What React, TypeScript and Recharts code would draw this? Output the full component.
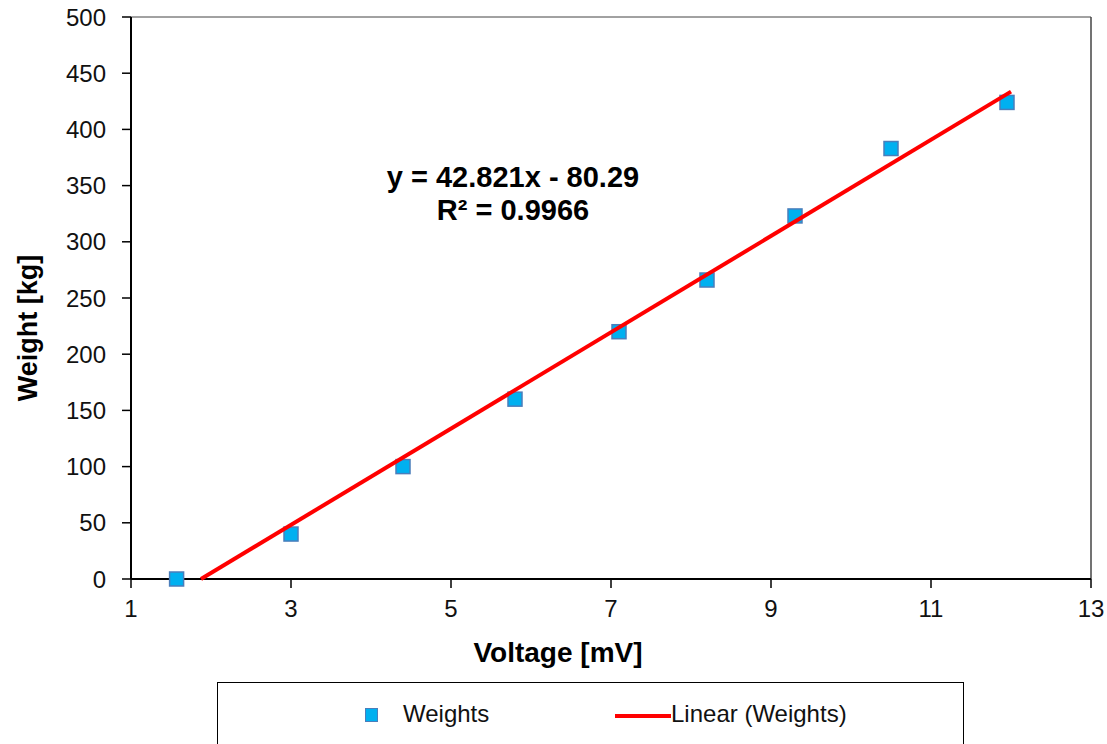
import {
  ScatterChart,
  Scatter,
  XAxis,
  YAxis,
  ReferenceLine,
} from "recharts";

const voltage = [1.57, 3.0, 4.4, 5.8, 7.1, 8.2, 9.3, 10.5, 11.95];
const weights = [0, 40, 100, 160, 220, 266, 323, 383, 424];

const trendVoltage = [1.875, 12];
const trendWeight = [0, 433.6];

const xTicks = [1, 3, 5, 7, 9, 11, 13];
const yTicks = [0, 50, 100, 150, 200, 250, 300, 350, 400, 450, 500];

const equationLines = ["y = 42.821x - 80.29", "R² = 0.9966"];

const points = voltage.map((v, i) => ({ x: v, y: weights[i] }));
const trend = trendVoltage.map((v, i) => ({ x: v, y: trendWeight[i] }));

const font = "'Liberation Sans', Arial, sans-serif";

const Square = (props: any) => {
  const { cx, cy } = props;
  if (cx == null || cy == null) return null;
  return (
    <rect
      x={cx - 7}
      y={cy - 7}
      width={14}
      height={14}
      fill="#00B0F0"
      stroke="#4A7EBB"
      strokeWidth={1.5}
    />
  );
};

const App = () => {
  return (
    <div
      style={{
        position: "absolute",
        left: 0,
        top: 0,
        width: 1107,
        height: 744,
        background: "#fff",
        overflow: "hidden",
      }}
    >
      <ScatterChart
        width={1107}
        height={744}
        margin={{ top: 17, right: 16, bottom: 0, left: 0 }}
      >
        <XAxis
          type="number"
          dataKey="x"
          domain={[1, 13]}
          ticks={xTicks}
          height={165}
          tickSize={9}
          tickMargin={12}
          axisLine={{ stroke: "#000", strokeWidth: 2 }}
          tickLine={{ stroke: "#000", strokeWidth: 1.5 }}
          tick={{ fill: "#111", fontSize: 24, fontFamily: font }}
        />
        <YAxis
          type="number"
          dataKey="y"
          domain={[0, 500]}
          ticks={yTicks}
          width={131}
          tickSize={9}
          tickMargin={16}
          axisLine={{ stroke: "#000", strokeWidth: 2 }}
          tickLine={{ stroke: "#000", strokeWidth: 1.5 }}
          tick={{ fill: "#111", fontSize: 24, fontFamily: font }}
        />
        <ReferenceLine y={500} stroke="#444" strokeWidth={1} />
        <ReferenceLine x={13} stroke="#444" strokeWidth={1.5} />
        <Scatter data={points} shape={Square} isAnimationActive={false} />
        <Scatter
          data={trend}
          line={{ stroke: "#FF0000", strokeWidth: 4 }}
          shape={() => <g />}
          isAnimationActive={false}
        />
      </ScatterChart>
      <div
        style={{
          position: "absolute",
          left: 458,
          top: 637,
          width: 200,
          textAlign: "center",
          fontFamily: font,
          fontWeight: "bold",
          fontSize: 28,
          color: "#000",
        }}
      >
        Voltage [mV]
      </div>
      <div
        style={{
          position: "absolute",
          left: 28,
          top: 328,
          width: 200,
          marginLeft: -100,
          marginTop: -16,
          textAlign: "center",
          transform: "rotate(-90deg)",
          fontFamily: font,
          fontWeight: "bold",
          fontSize: 27,
          lineHeight: "32px",
          color: "#000",
        }}
      >
        Weight [kg]
      </div>
      <div
        style={{
          position: "absolute",
          left: 363,
          top: 161,
          width: 300,
          textAlign: "center",
          fontFamily: font,
          fontWeight: "bold",
          fontSize: 29,
          lineHeight: "33px",
          color: "#000",
        }}
      >
        {equationLines.map((t) => (
          <div key={t}>{t}</div>
        ))}
      </div>
      <div
        style={{
          position: "absolute",
          left: 217,
          top: 682,
          width: 747,
          height: 80,
          border: "1px solid #000",
          boxSizing: "border-box",
          fontFamily: font,
          fontSize: 24,
          color: "#111",
        }}
      >
        <div
          style={{
            position: "absolute",
            left: 147,
            top: 25,
            width: 13,
            height: 14,
            background: "#00B0F0",
            border: "1.5px solid #4A7EBB",
            boxSizing: "border-box",
          }}
        />
        <div style={{ position: "absolute", left: 185, top: 17 }}>Weights</div>
        <div
          style={{
            position: "absolute",
            left: 397,
            top: 31,
            width: 56,
            height: 4,
            background: "#FF0000",
          }}
        />
        <div style={{ position: "absolute", left: 453, top: 17 }}>Linear (Weights)</div>
      </div>
    </div>
  );
};

export default App;
